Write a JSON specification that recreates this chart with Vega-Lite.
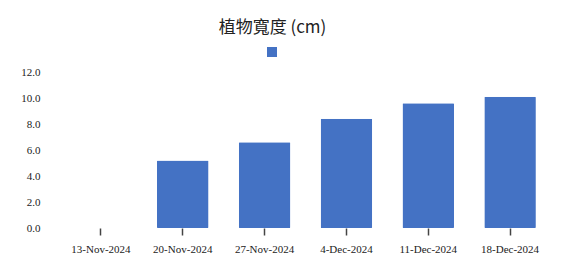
{
  "$schema": "https://vega.github.io/schema/vega-lite/v6.json",
  "width": 491,
  "height": 156,
  "autosize": {"type": "none"},
  "padding": {"left": 60, "top": 72, "right": 13, "bottom": 33},
  "background": "white",
  "title": {
    "text": "植物寬度 (cm)",
    "font": "Noto Sans CJK TC",
    "fontSize": 17,
    "fontWeight": "normal",
    "color": "#222222",
    "anchor": "middle",
    "dx": -33,
    "offset": 10
  },
  "data": {
    "values": [
      {"date": "13-Nov-2024", "width": 0, "series": "植物寬度"},
      {"date": "20-Nov-2024", "width": 5.2, "series": "植物寬度"},
      {"date": "27-Nov-2024", "width": 6.6, "series": "植物寬度"},
      {"date": "4-Dec-2024", "width": 8.4, "series": "植物寬度"},
      {"date": "11-Dec-2024", "width": 9.6, "series": "植物寬度"},
      {"date": "18-Dec-2024", "width": 10.1, "series": "植物寬度"}
    ]
  },
  "mark": {"type": "bar", "cornerRadius": 1},
  "encoding": {
    "x": {
      "field": "date",
      "type": "ordinal",
      "sort": null,
      "scale": {"paddingInner": 0.37, "paddingOuter": 0.185},
      "axis": {
        "title": null,
        "labelAngle": 0,
        "labelFont": "Liberation Serif",
        "labelFontSize": 11,
        "labelColor": "#222222",
        "domain": false,
        "ticks": true,
        "tickSize": 7,
        "tickWidth": 1.5,
        "tickColor": "#444444",
        "tickOpacity": 1,
        "labelPadding": 8,
        "grid": false
      }
    },
    "y": {
      "field": "width",
      "type": "quantitative",
      "scale": {"domain": [0, 12]},
      "axis": {
        "title": null,
        "values": [0, 2, 4, 6, 8, 10, 12],
        "format": ".1f",
        "labelFont": "Liberation Serif",
        "labelFontSize": 11,
        "labelColor": "#222222",
        "domain": false,
        "ticks": false,
        "grid": false,
        "labelPadding": 20
      }
    },
    "color": {
      "field": "series",
      "type": "nominal",
      "scale": {"range": ["#4472C4"]},
      "legend": {
        "title": null,
        "orient": "none",
        "legendX": 207,
        "legendY": -25,
        "symbolType": "square",
        "symbolSize": 100,
        "symbolStrokeWidth": 0,
        "labelExpr": "''"
      }
    }
  },
  "config": {"view": {"stroke": null}}
}
